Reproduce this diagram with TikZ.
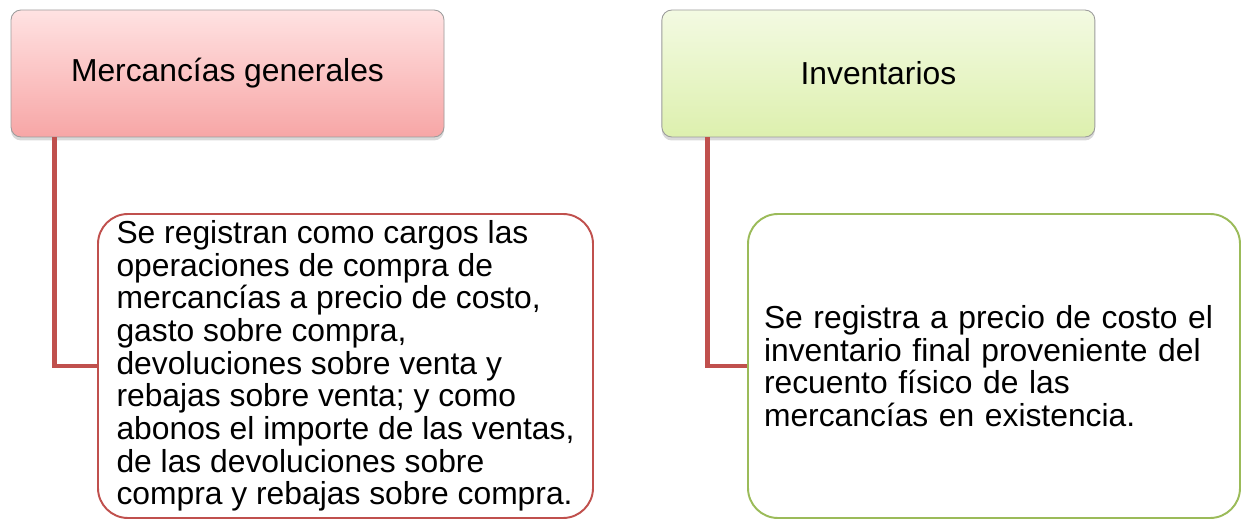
\documentclass[tikz,border=0pt]{standalone}
\usepackage{fontspec}
\setmainfont{Liberation Sans}
\usetikzlibrary{positioning,shadows}
\definecolor{mercred}{HTML}{C0504D}
\definecolor{invgreen}{HTML}{9BBB59}
\definecolor{pinktop}{HTML}{FFE2E2}
\definecolor{pinkbot}{HTML}{F7A6A6}
\definecolor{limetop}{HTML}{F3FAE2}
\definecolor{limebot}{HTML}{DDF0AE}
\definecolor{edgegray}{HTML}{9C9C9C}

\begin{document}
\begin{tikzpicture}[
		font=\fontsize{18.1pt}{18.6pt}\selectfont,
		title/.style={draw=edgegray, top color=#1top, bottom color=#1bot,
				rounded corners=0.2cm, minimum width=8.66cm, minimum height=2.54cm,
				line width=0.5pt,
				drop shadow={shadow xshift=0pt, shadow yshift=-0.07cm, opacity=0.3}},
		desc/.style={draw=#1, fill=white, rounded corners=0.6cm, line width=1.1pt,
				minimum height=6.08cm, inner xsep=0.31cm, align=left},
		link/.style={draw=mercred, line width=2.8pt},
	]
	\useasboundingbox (0,0) rectangle (24.82,-10.4);

	\node[title=pink] (merc) at (4.55,-1.47) {Mercancías generales};
	\node[title=lime, right=4.34cm of merc] (inv) {Inventarios};

	\node[desc=mercred, minimum width=9.9cm, inner xsep=0.1cm] (mercdesc) at (6.91,-7.32)
	{Se registran como cargos las\\
		operaciones de compra de\\
		mercancías a precio de costo,\\
		gasto sobre compra,\\
		devoluciones sobre venta y\\
		rebajas sobre venta; y como\\
		abonos el importe de las ventas,\\
		de las devoluciones sobre\\
		compra y rebajas sobre compra.};

	\node[desc=invgreen, minimum width=9.84cm, text width=9.2cm] (invdesc) at (19.88,-7.32)
	{Se registra a precio de costo el\\
		inventario final proveniente del\\
		recuento físico de las\\
		mercancías en existencia.};

	\draw[link] ([xshift=0.88cm]merc.south west) |- (mercdesc.west);
	\draw[link] ([xshift=0.92cm]inv.south west) |- (invdesc.west);

\end{tikzpicture}
\end{document}
